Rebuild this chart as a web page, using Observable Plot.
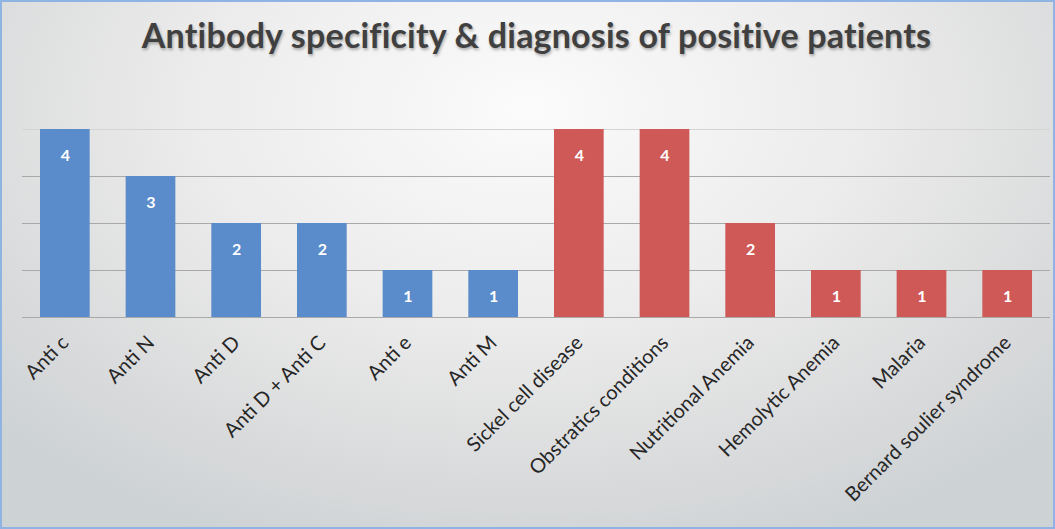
<!DOCTYPE html>
<html><head><meta charset="utf-8">
<script src="https://cdn.jsdelivr.net/npm/d3@7"></script>
<script src="https://cdn.jsdelivr.net/npm/@observablehq/plot@0.6"></script>
<style>
html,body{margin:0;padding:0;}
#frame{position:relative;width:1055px;height:529px;box-sizing:border-box;border:2px solid #8fb4e3;
background:radial-gradient(ellipse 70% 90% at 50% 20%, #fbfbfb 0%, #ececec 45%, #d9dadb 80%, #cdd2d5 100%);
overflow:hidden;font-family:Lato,"Open Sans",sans-serif;}
#title{height:66px;line-height:66px;padding-left:18px;text-align:center;font-size:34px;font-weight:bold;color:#404040;
text-shadow:1px 2px 3px rgba(0,0,0,0.3);letter-spacing:0.2px;box-sizing:border-box;}
svg{display:block;background:transparent;}
</style></head>
<body><div id="frame"><div id="title">Antibody specificity &amp; diagnosis of positive patients</div><div id="chart"></div></div>
<script>
const categories = ["Anti c","Anti N","Anti D","Anti D + Anti C","Anti e","Anti M","Sickel cell disease","Obstratics conditions","Nutritional Anemia","Hemolytic Anemia","Malaria","Bernard soulier syndrome"];
const values = [4,3,2,2,1,1,4,4,2,1,1,1];
const groups = ["Antibody","Antibody","Antibody","Antibody","Antibody","Antibody","Diagnosis","Diagnosis","Diagnosis","Diagnosis","Diagnosis","Diagnosis"];
const groupNames = ["Antibody","Diagnosis"];
const groupColors = ["#5a8bca","#cf5957"];
const gridValues = [0,1,2,3];
const topGrid = [4];

const data = categories.map((c,i)=>({cat:c, value:values[i], group:groups[i]}));

const chart = Plot.plot({
  width:1051, height:459,
  marginLeft:20, marginRight:3, marginTop:61, marginBottom:210,
  style:{background:"transparent", fontFamily:"Lato, 'Open Sans', sans-serif"},
  x:{domain:categories, paddingInner:0.42, paddingOuter:0.21, round:false, label:null},
  y:{domain:[0,4], axis:null},
  color:{domain:groupNames, range:groupColors},
  marks:[
    Plot.ruleY(topGrid,{stroke:"#d4d4d4", strokeWidth:1.2}),
    Plot.ruleY(gridValues,{stroke:"#a9a9a9", strokeWidth:1.2}),
    Plot.barY(data,{x:"cat", y:"value", fill:"group"}),
    Plot.text(data,{x:"cat", y:"value", text:d=>String(d.value), dy:26, fill:"white", fontWeight:"bold", fontSize:16}),
    Plot.axisX({tickSize:0, tickPadding:22, tickRotate:-45, fontSize:20, fill:"#262626", label:null})
  ]
});
document.getElementById("chart").appendChild(chart);
</script></body></html>
